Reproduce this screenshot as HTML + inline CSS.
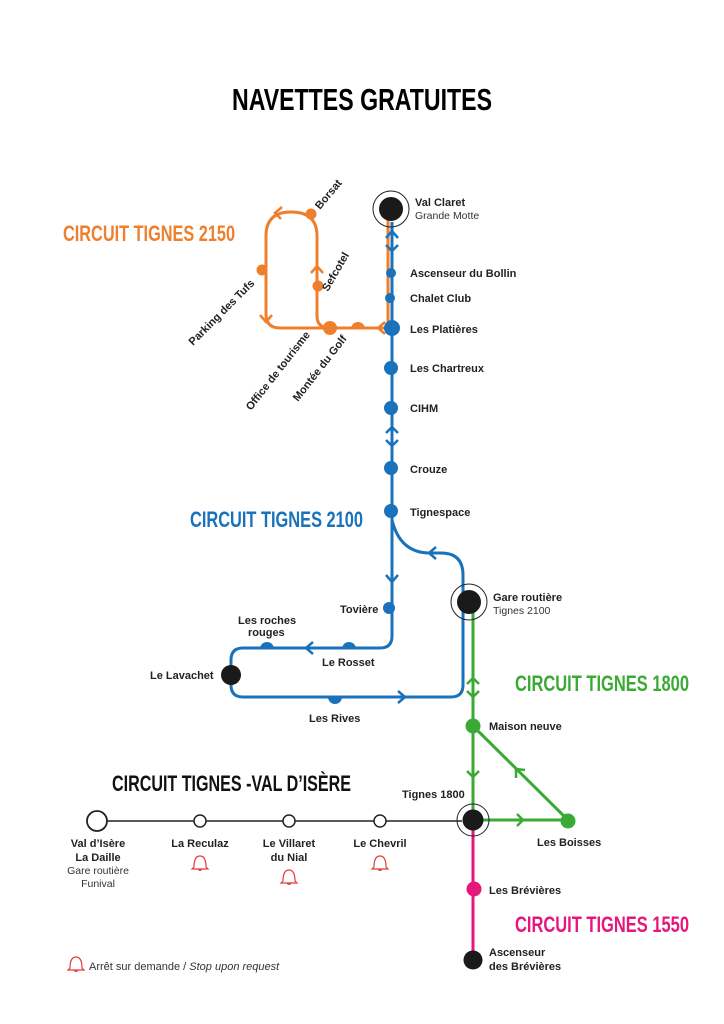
<!DOCTYPE html>
<html><head><meta charset="utf-8"><style>
html,body{margin:0;padding:0;background:#fff}
svg{display:block}
text{font-family:"Liberation Sans",sans-serif}
.b{font-weight:bold;font-size:11px;fill:#222}
.r{font-size:10.5px;fill:#333}
.h{font-weight:bold}
</style></head><body>
<svg width="724" height="1024" viewBox="0 0 724 1024" xmlns="http://www.w3.org/2000/svg">
<rect width="724" height="1024" fill="#fff"/>
<text x="232" y="110" class="h" font-size="31" textLength="260" lengthAdjust="spacingAndGlyphs" fill="#000">NAVETTES GRATUITES</text>

<text x="63" y="241" class="h" font-size="22" textLength="172" lengthAdjust="spacingAndGlyphs" fill="#ee7f2d">CIRCUIT TIGNES 2150</text>
<text x="190" y="527" class="h" font-size="22" textLength="173" lengthAdjust="spacingAndGlyphs" fill="#1a72bb">CIRCUIT TIGNES 2100</text>
<text x="515" y="691" class="h" font-size="22" textLength="174" lengthAdjust="spacingAndGlyphs" fill="#3aaa35">CIRCUIT TIGNES 1800</text>
<text x="112" y="791" class="h" font-size="22" textLength="239" lengthAdjust="spacingAndGlyphs" fill="#111">CIRCUIT TIGNES -VAL D’ISÈRE</text>
<text x="515" y="932" class="h" font-size="22" textLength="174" lengthAdjust="spacingAndGlyphs" fill="#e5177b">CIRCUIT TIGNES 1550</text>

<g fill="none" stroke="#ee7f2d" stroke-width="3">
<path d="M388 212 V328 H280 Q266 328 266 314 V236 Q266 212 291 212 Q317 212 317 236 V316 Q317 328 330 328"/>
</g>
<g fill="none" stroke="#ee7f2d" stroke-width="2.5">
<path d="M282 207 L275 213 L281 219"/>
<path d="M260 315 L266 322 L272 315"/>
<path d="M311 273 L317 266 L323 273"/>
<path d="M385 322 L378 328 L385 334"/>
</g>
<g fill="#ee7f2d">
<circle cx="311" cy="214" r="5.5"/>
<circle cx="262" cy="270" r="5.5"/>
<circle cx="318" cy="286" r="5.5"/>
<circle cx="330" cy="328" r="7"/>
<path d="M351 329 A7 7 0 0 1 365 329 Z"/>
</g>

<g fill="none" stroke="#1a72bb" stroke-width="3">
<path d="M392 222 V636 Q392 648 380 648 H243 Q231 648 231 660 V685 Q231 697 243 697 H451 Q463 697 463 685 V575 Q463 553 441 553 H430 Q400 553 392 520"/>
</g>
<g fill="none" stroke="#1a72bb" stroke-width="2.5">
<path d="M386 238 L392 231 L398 238 M386 245 L392 251 L398 245"/>
<path d="M386 433 L392 427 L398 433 M386 440 L392 446 L398 440"/>
<path d="M386 575 L392 582 L398 575"/>
<path d="M313 642 L306 648 L313 654"/>
<path d="M398 691 L405 697 L398 703"/>
<path d="M436 547 L429 553 L436 559"/>
</g>
<g fill="#1a72bb">
<circle cx="391" cy="273" r="5"/>
<circle cx="390" cy="298" r="5"/>
<circle cx="392" cy="328" r="8"/>
<circle cx="391" cy="368" r="7"/>
<circle cx="391" cy="408" r="7"/>
<circle cx="391" cy="468" r="7"/>
<circle cx="391" cy="511" r="7"/>
<circle cx="389" cy="608" r="6"/>
<path d="M342 649 A7 7 0 0 1 356 649 Z"/>
<path d="M260 649 A7 7 0 0 1 274 649 Z"/>
<path d="M328 697 A7 7 0 0 0 342 697 Z"/>
</g>

<g fill="none" stroke="#3aaa35" stroke-width="3">
<path d="M473 608 V820 H568 L473 726"/>
</g>
<g fill="none" stroke="#3aaa35" stroke-width="2.5">
<path d="M467 684 L473 678 L479 684 M467 691 L473 697 L479 691"/>
<path d="M467 771 L473 777 L479 771"/>
<path d="M517 814 L523 820 L517 826"/>
<path d="M525 770 L516 769 L516 778"/>
</g>
<g fill="#3aaa35">
<circle cx="473" cy="726" r="7.5"/>
<circle cx="568" cy="821" r="7.5"/>
</g>

<line x1="473" y1="826" x2="473" y2="958" stroke="#e5177b" stroke-width="3"/>
<circle cx="474" cy="889" r="7.5" fill="#e5177b"/>

<line x1="107" y1="821" x2="462" y2="821" stroke="#222" stroke-width="1.5"/>
<circle cx="97" cy="821" r="10" fill="#fff" stroke="#222" stroke-width="1.8"/>
<circle cx="200" cy="821" r="6" fill="#fff" stroke="#222" stroke-width="1.5"/>
<circle cx="289" cy="821" r="6" fill="#fff" stroke="#222" stroke-width="1.5"/>
<circle cx="380" cy="821" r="6" fill="#fff" stroke="#222" stroke-width="1.5"/>

<g>
<circle cx="391" cy="209" r="18" fill="none" stroke="#222" stroke-width="1"/>
<circle cx="391" cy="209" r="12" fill="#1a1a1a"/>
<circle cx="469" cy="602" r="18" fill="none" stroke="#222" stroke-width="1"/>
<circle cx="469" cy="602" r="12" fill="#1a1a1a"/>
<circle cx="473" cy="820" r="16" fill="none" stroke="#222" stroke-width="1"/>
<circle cx="473" cy="820" r="10.5" fill="#1a1a1a"/>
<circle cx="231" cy="675" r="10" fill="#1a1a1a"/>
<circle cx="473" cy="960" r="9.5" fill="#1a1a1a"/>
</g>

<text x="415" y="206" class="b">Val Claret</text>
<text x="415" y="219" class="r">Grande Motte</text>
<text x="410" y="277" class="b">Ascenseur du Bollin</text>
<text x="410" y="302" class="b">Chalet Club</text>
<text x="410" y="333" class="b">Les Platières</text>
<text x="410" y="372" class="b">Les Chartreux</text>
<text x="410" y="412" class="b">CIHM</text>
<text x="410" y="473" class="b">Crouze</text>
<text x="410" y="516" class="b">Tignespace</text>
<text x="340" y="613" class="b">Tovière</text>
<text x="238" y="624" class="b">Les roches</text>
<text x="248" y="636" class="b">rouges</text>
<text x="322" y="666" class="b">Le Rosset</text>
<text x="150" y="679" class="b">Le Lavachet</text>
<text x="309" y="722" class="b">Les Rives</text>
<text x="493" y="601" class="b">Gare routière</text>
<text x="493" y="614" class="r">Tignes 2100</text>
<text x="489" y="730" class="b">Maison neuve</text>
<text x="537" y="846" class="b">Les Boisses</text>
<text x="402" y="798" class="b">Tignes 1800</text>
<text x="489" y="894" class="b">Les Brévières</text>
<text x="489" y="956" class="b">Ascenseur</text>
<text x="489" y="970" class="b">des Brévières</text>

<text x="320" y="210" class="b" transform="rotate(-50 320 210)">Borsat</text>
<text x="193" y="346" class="b" transform="rotate(-45 193 346)">Parking des Tufs</text>
<text x="328" y="292" class="b" transform="rotate(-60 328 292)">Sefcotel</text>
<text x="251" y="411" class="b" transform="rotate(-52 251 411)">Office de tourisme</text>
<text x="298" y="402" class="b" transform="rotate(-52 298 402)">Montée du Golf</text>

<g text-anchor="middle">
<text x="98" y="847" class="b">Val d’Isère</text>
<text x="98" y="861" class="b">La Daille</text>
<text x="98" y="874" class="r">Gare routière</text>
<text x="98" y="887" class="r">Funival</text>
<text x="200" y="847" class="b">La Reculaz</text>
<text x="289" y="847" class="b">Le Villaret</text>
<text x="289" y="861" class="b">du Nial</text>
<text x="380" y="847" class="b">Le Chevril</text>
</g>
<g fill="none" stroke="#e53b3b" stroke-width="1.2">
<path d="M194 867 Q194 856 200 856 Q206 856 206 867 L208 869 H192 Z M198 869 Q200 872 202 869"/>
<path d="M283 881 Q283 870 289 870 Q295 870 295 881 L297 883 H281 Z M287 883 Q289 886 291 883"/>
<path d="M374 867 Q374 856 380 856 Q386 856 386 867 L388 869 H372 Z M378 869 Q380 872 382 869"/>
<path d="M70 968 Q70 957 76 957 Q82 957 82 968 L84 970 H68 Z M74 970 Q76 973 78 970"/>
</g>
<text x="89" y="970" font-size="11" fill="#333">Arrêt sur demande / <tspan font-style="italic">Stop upon request</tspan></text>
</svg>
</body></html>
